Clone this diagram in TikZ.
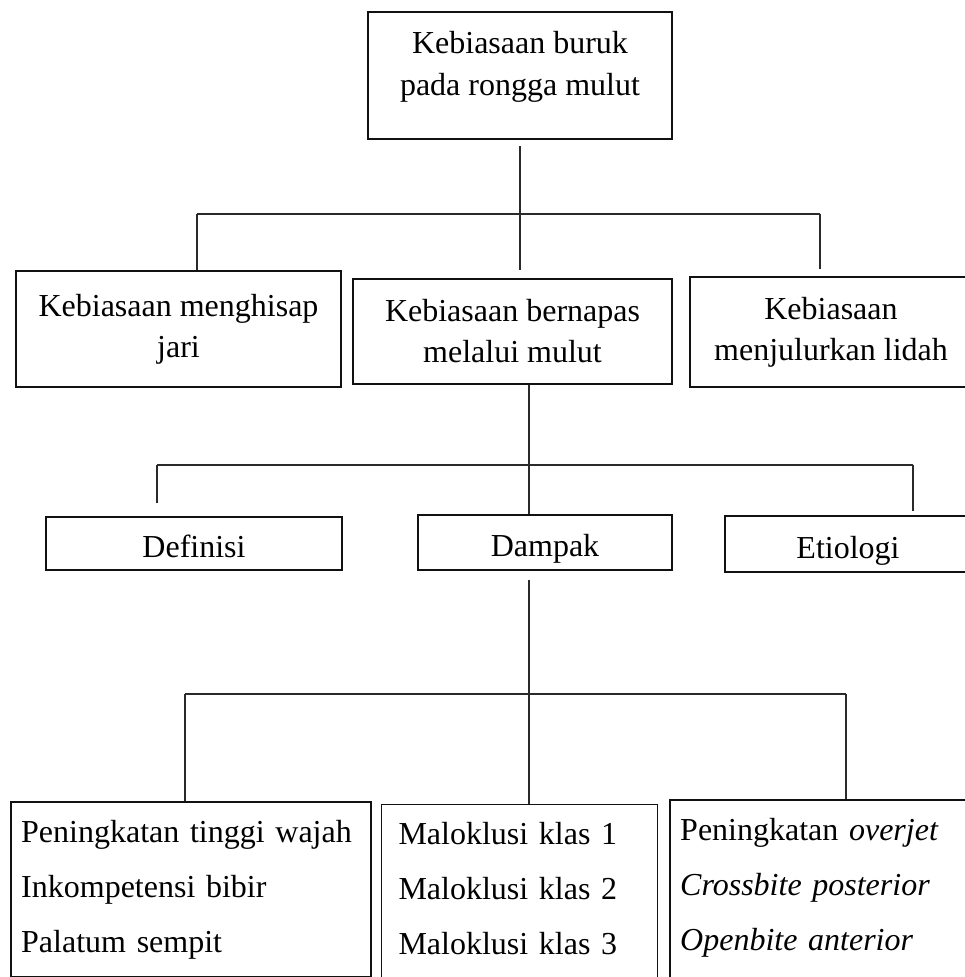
\documentclass[tikz,border=0pt]{standalone}
\usepackage{fontspec}
\setmainfont{Liberation Serif}
\usepackage{tikz}
\definecolor{kbInk}{HTML}{111111}
\definecolor{kbLine}{HTML}{2A2A2A}
\tikzset{
  kb-box/.style={
    draw=kbInk, line width=2.4pt, fill=white, align=center,
    font=\fontsize{32}{41}\selectfont, inner sep=0pt
  },
  kb-top/.style={kb-box, font=\fontsize{32}{42}\selectfont},
  kb-tag/.style={kb-box, text height=28pt, text depth=0pt},
  kb-list/.style={kb-box, align=left, anchor=north west,
    font=\fontsize{32}{55}\selectfont, inner xsep=10pt, inner ysep=18pt},
  kb-thin/.style={kb-list, line width=1pt, inner xsep=17pt},
  kb-link/.style={line width=1.2pt, draw=kbLine}
}

\begin{document}
\begin{tikzpicture}[x=1pt, y=-1pt]
\useasboundingbox (0,0) rectangle (965,977);

\node[kb-top, minimum width=304pt, minimum height=127pt] (top) at (520,75.5)
  {Kebiasaan buruk\\pada rongga mulut\\[-17pt]\mbox{}};

\node[kb-box, minimum width=325pt, minimum height=116pt] (bA) at (178.5,329)
  {Kebiasaan menghisap\\jari};
\node[kb-box, minimum width=319pt, minimum height=105pt] (bB) at (512.5,331.5)
  {Kebiasaan bernapas\\melalui mulut};
\node[kb-box, minimum width=282pt, minimum height=110pt] (bC) at (831,332)
  {Kebiasaan\\menjulurkan lidah};

\node[kb-tag, minimum width=296pt, minimum height=53pt] (def) at (194,543.5)
  {Definisi};
\node[kb-tag, minimum width=254pt, minimum height=55pt] (dampak) at (545,542.5)
  {Dampak};
\node[kb-tag, minimum width=246pt, minimum height=56pt] (etio) at (848,544)
  {Etiologi};

\node[kb-list, text width=340pt] (wajah) at (10,801)
  {Peningkatan tinggi wajah\\Inkompetensi bibir\\Palatum sempit};
\node[kb-thin, text width=242pt] (malo) at (381,804)
  {Maloklusi klas 1\\Maloklusi klas 2\\Maloklusi klas 3\\[-30pt]\mbox{}};
\node[kb-list, text width=300pt] (overjet) at (669,799)
  {Peningkatan \textit{overjet}\\\textit{Crossbite posterior}\\
  \textit{Openbite anterior}\\[-30pt]\mbox{}};

\coordinate (splitL) at (197,214);
\coordinate (splitR) at (820,214);
\coordinate (splitL2) at (157,465);
\coordinate (splitM2) at (529,465);
\coordinate (splitR2) at (913,465);
\coordinate (splitL3) at (185,694);
\coordinate (splitM3) at (529,694);
\coordinate (splitR3) at (846,694);

\draw[kb-link, shorten <=6pt, shorten >=8pt] (top) -- (top |- bB.north);
\draw[kb-link] (splitL) -- (splitR);
\draw[kb-link] (splitL) -- (splitL |- bA.north);
\draw[kb-link, shorten >=7pt] (splitR) -- (splitR |- bC.north);

\draw[kb-link] (splitM2 |- bB.south) -- (splitM2 |- dampak.north);
\draw[kb-link] (splitL2) -- (splitR2);
\draw[kb-link, shorten >=13pt] (splitL2) -- (splitL2 |- def.north);
\draw[kb-link, shorten >=4pt] (splitR2) -- (splitR2 |- etio.north);

\draw[kb-link, shorten <=9pt] (splitM3 |- dampak.south) -- (splitM3 |- malo.north);
\draw[kb-link] (splitL3) -- (splitR3);
\draw[kb-link] (splitL3) -- (splitL3 |- wajah.north);
\draw[kb-link] (splitR3) -- (splitR3 |- overjet.north);
\end{tikzpicture}
\end{document}
